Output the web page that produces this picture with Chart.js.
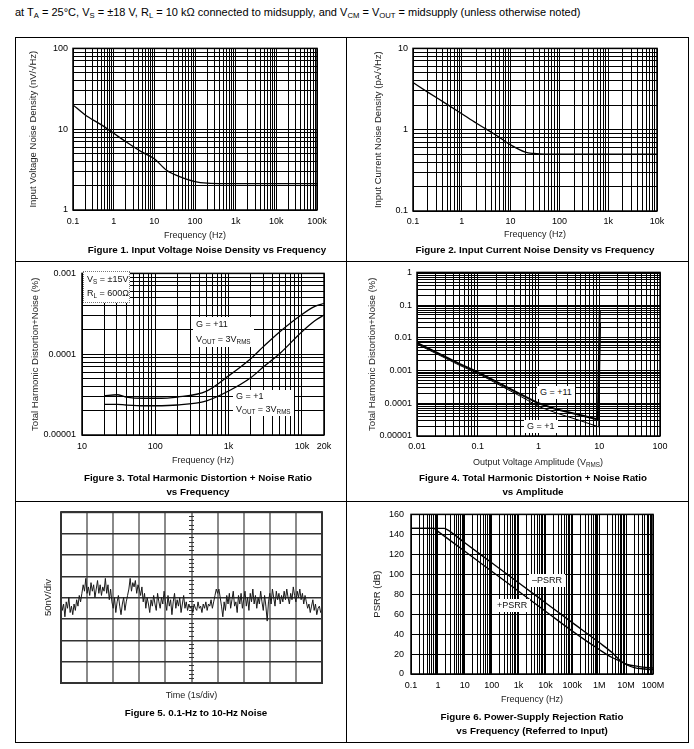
<!DOCTYPE html>
<html>
<head>
<meta charset="utf-8">
<script src="https://cdn.jsdelivr.net/npm/chart.js@4.4.1/dist/chart.umd.min.js"></script>
<style>
  body { margin:0; width:694px; height:749px; background:#fff; position:relative; overflow:hidden;
         font-family:"Liberation Sans", Arial, sans-serif; color:#000; }
  .ln { position:absolute; background:#000; }
  .cap { position:absolute; width:360px; text-align:center; font-weight:bold; font-size:9.8px; line-height:14px; white-space:nowrap; }
  .note { position:absolute; font-size:9px; line-height:13px; background:#fff; padding:0 3px; white-space:nowrap; color:#111; }
  .ttl { position:absolute; font-size:9px; line-height:12px; white-space:nowrap; color:#222; }
  sub { font-size:70%; vertical-align:-0.3em; line-height:0; }
  canvas { position:absolute; }
</style>
</head>
<body>
<div id="charts"></div>

<div style="position:absolute;left:15px;top:5px;font-size:11px;line-height:14px;white-space:nowrap">at T<sub>A</sub> = 25°C, V<sub>S</sub> = ±18 V, R<sub>L</sub> = 10 kΩ connected to midsupply, and V<sub>CM</sub> = V<sub>OUT</sub> = midsupply (unless otherwise noted)</div>

<div class="ln" style="left:15px;top:37px;width:674px;height:1px"></div>
<div class="ln" style="left:15px;top:261px;width:674px;height:1px"></div>
<div class="ln" style="left:15px;top:501px;width:674px;height:1px"></div>
<div class="ln" style="left:15px;top:742px;width:674px;height:1px"></div>
<div class="ln" style="left:15px;top:37px;width:1px;height:706px"></div>
<div class="ln" style="left:346px;top:37px;width:1px;height:706px"></div>
<div class="ln" style="left:688px;top:37px;width:1px;height:706px"></div>

<div class="cap" style="left:27px;top:243px">Figure 1. Input Voltage Noise Density vs Frequency</div>
<div class="cap" style="left:355px;top:243px">Figure 2. Input Current Noise Density vs Frequency</div>
<div class="cap" style="left:18px;top:471px">Figure 3. Total Harmonic Distortion + Noise Ratio<br>vs Frequency</div>
<div class="cap" style="left:353px;top:471px">Figure 4. Total Harmonic Distortion + Noise Ratio<br>vs Amplitude</div>
<div class="cap" style="left:16px;top:706px">Figure 5. 0.1-Hz to 10-Hz Noise</div>
<div class="cap" style="left:352px;top:710px">Figure 6. Power-Supply Rejection Ratio<br>vs Frequency (Referred to Input)</div>

<div class="note" style="left:83px;top:271px;width:42px;height:30px;padding:0 0 0 3px;border:1px dotted #777;line-height:14px">V<sub>S</sub> = ±15V<br>R<sub>L</sub> = 600Ω</div>
<div class="note" style="left:193px;top:317px;line-height:15px">G = +11<br>V<sub>OUT</sub> = 3V<sub>RMS</sub></div>
<div class="note" style="left:233px;top:390px;line-height:13px">G = +1<br>V<sub>OUT</sub> = 3V<sub>RMS</sub></div>
<div class="note" style="left:537px;top:386px">G = +11</div>
<div class="note" style="left:524px;top:420px">G = +1</div>
<div class="note" style="left:529px;top:574px">–PSRR</div>
<div class="note" style="left:494px;top:599px">+PSRR</div>
<div class="ttl" style="left:438px;top:456px;width:200px;text-align:center">Output Voltage Amplitude (V<sub>RMS</sub>)</div>

<script>
// Figure 1: input voltage noise density (nV/rtHz)
const fig1Freq  = [0.1, 0.2, 0.5, 1, 2, 5, 10, 20, 50, 100, 200, 500, 1000, 10000, 100000];
const fig1Noise = [20, 15, 11.3, 8.9, 7.0, 5.2, 4.3, 3.1, 2.5, 2.25, 2.15, 2.12, 2.12, 2.12, 2.12];
const fig1XTicks = [0.1, 1, 10, 100, 1000, 10000, 100000];
const fig1XLabels = ['0.1', '1', '10', '100', '1k', '10k', '100k'];
const fig1YTicks = [1, 10, 100];
const fig1YLabels = ['1', '10', '100'];

// Figure 2: input current noise density (pA/rtHz)
const fig2Freq  = [0.1, 0.2, 0.5, 1, 2, 5, 10, 20, 30, 50, 100, 1000, 10000];
const fig2Noise = [3.8, 2.9, 2.05, 1.57, 1.2, 0.86, 0.65, 0.53, 0.51, 0.5, 0.5, 0.5, 0.5];
const fig2XTicks = [0.1, 1, 10, 100, 1000, 10000];
const fig2XLabels = ['0.1', '1', '10', '100', '1k', '10k'];
const fig2YTicks = [0.1, 1, 10];
const fig2YLabels = ['0.1', '1', '10'];

// Figure 3: THD+N vs frequency (%)
const fig3Freq = [20, 30, 40, 70, 100, 200, 500, 1000, 2000, 3000, 5000, 10000, 15000, 20000];
const fig3G11  = [3.05e-5, 3.15e-5, 2.95e-5, 2.85e-5, 2.85e-5, 2.95e-5, 3.5e-5, 5.4e-5, 8.8e-5, 1.25e-4, 1.9e-4, 3.1e-4, 3.9e-4, 4.25e-4];
const fig3G1   = [2.4e-5, 2.4e-5, 2.35e-5, 2.3e-5, 2.3e-5, 2.35e-5, 2.65e-5, 3.5e-5, 5.1e-5, 7.0e-5, 1.02e-4, 1.9e-4, 2.6e-4, 3.05e-4];
const fig3XTicks = [10, 100, 1000, 10000, 20000];
const fig3XLabels = ['10', '100', '1k', '10k', '20k'];
const fig3YTicks = [0.00001, 0.0001, 0.001];
const fig3YLabels = ['0.00001', '0.0001', '0.001'];

// Figure 4: THD+N vs output amplitude (%)
const fig4G11Amp = [0.01, 0.02, 0.05, 0.1, 0.2, 0.5, 1, 2, 5, 9.5, 10.2];
const fig4G11    = [7e-3, 3.7e-3, 1.6e-3, 9e-4, 4.6e-4, 1.9e-4, 1.0e-4, 6.5e-5, 4.3e-5, 3.2e-5, 0.07];
const fig4G1Amp  = [0.01, 0.02, 0.05, 0.1, 0.2, 0.5, 1, 2, 5, 9.8, 10.5];
const fig4G1     = [6.4e-3, 3.4e-3, 1.45e-3, 8.2e-4, 4.1e-4, 1.65e-4, 8e-5, 5.0e-5, 2.9e-5, 1.9e-5, 0.03];
const fig4XTicks = [0.01, 0.1, 1, 10, 100];
const fig4XLabels = ['0.01', '0.1', '1', '10', '100'];
const fig4YTicks = [0.00001, 0.0001, 0.001, 0.01, 0.1, 1];
const fig4YLabels = ['0.00001', '0.0001', '0.001', '0.01', '0.1', '1'];

// Figure 5: 0.1-Hz to 10-Hz noise, divisions (50nV/div), one sample every 0.05 s
const fig5Step = 0.05;
const fig5Noise = [
  -0.1, -0.6, -0.3, -0.9, -0.2, -0.5, 0.0, -0.7, -0.4, -0.8,
  -0.3, -0.6, -0.1, -0.4, 0.1, -0.2, 0.2, 0.6, 0.3, 0.9,
  0.2, 0.5, 0.1, 0.7, 0.3, 0.6, 0.0, 0.4, 0.8, 0.2,
  0.6, 0.1, 0.5, 0.3, 0.9, 0.2, 0.6, -0.1, 0.4, -0.2,
  -0.5, 0.0, -0.7, -0.2, 0.1, -0.4, -0.8, -0.3, 0.0, -0.6,
  -0.2, 0.1, 0.4, 0.9, 0.3, 0.7, 0.5, 0.8, 0.2, 0.6,
  0.4, 0.1, 0.5, -0.2, 0.2, -0.5, 0.0, -0.3, -0.7, -0.1,
  -0.4, 0.1, -0.3, -0.6, 0.2, -0.2, -0.5, 0.0, -0.3, 0.3,
  -0.2, -0.6, 0.1, -0.4, -0.1, -0.8, -0.2, 0.2, -0.5, -0.1,
  -0.4, 0.0, -0.7, -0.3, 0.1, -0.5, -0.2, -0.6, -0.3, -0.5,
  -0.4, -0.7, -0.3, -0.5, -0.6, -0.2, -0.5, -0.4, -0.7, -0.3,
  -0.5, -0.2, -0.6, -0.3, -0.4, -0.1, -0.5, -0.2, 0.1, 0.4,
  0.2, 0.4, 0.0, -0.4, -0.9, -0.2, -0.6, 0.1, -0.3, 0.2,
  -0.5, -0.1, 0.3, -0.4, -0.2, -0.7, 0.1, -0.3, 0.2, -0.5,
  -0.1, 0.3, -0.4, 0.0, -0.6, 0.2, -0.2, 0.4, -0.3, 0.1,
  -0.5, 0.0, -0.3, 0.3, -0.2, -0.6, 0.1, -0.4, -1.1, -0.2,
  0.2, -0.3, 0.4, 0.0, -0.4, 0.3, -0.1, 0.2, -0.3, 0.1,
  -0.2, 0.3, -0.1, 0.4, 0.0, -0.3, 0.2, -0.1, 0.5, 0.1,
  -0.2, 0.3, 0.0, 0.4, -0.1, 0.2, -0.3, 0.1, -0.2, -0.5,
  -0.3, -0.7, -0.4, -0.1, -0.6, -0.3, -0.8, -0.5, -0.4, -0.7,
  -0.6
];

// Figure 6: PSRR (dB)
const fig6MinusFreq = [0.1, 1.7, 2.3, 10, 100, 1000, 10000, 100000, 1e6, 3e6, 6e6, 1e7, 2e7, 5e7, 1e8];
const fig6Minus     = [146, 146, 144.5, 131.5, 111.5, 91.5, 71.5, 51.5, 31.5, 21.5, 13.5, 9.5, 6.5, 5, 4.3];
const fig6PlusFreq  = [0.1, 0.7, 1, 10, 100, 1000, 10000, 100000, 1e6, 3e6, 6e6, 1e7, 3e7, 1e8];
const fig6Plus      = [146, 146, 143, 123, 103, 83, 63, 43, 24.5, 16.5, 12.8, 10, 7.5, 6];
const fig6XTicks = [0.1, 1, 10, 100, 1000, 1e4, 1e5, 1e6, 1e7, 1e8];
const fig6XLabels = ['0.1', '1', '10', '100', '1k', '10k', '100k', '1M', '10M', '100M'];
const fig6YTicks = [0, 20, 40, 60, 80, 100, 120, 140, 160];
const fig6YLabels = ['0', '20', '40', '60', '80', '100', '120', '140', '160'];

// page layout: canvas [left, top, width, height], plot [left, top, right, bottom]
const L1 = { canvas: [16, 38, 329, 206], plot: [73, 45, 317, 210], yGap: 5, xLabelY: 222, yTitleX: 33, xTitleY: 236 };
const L2 = { canvas: [347, 38, 340, 206], plot: [413, 45, 657, 211], yGap: 5, xLabelY: 222, yTitleX: 378, xTitleY: 235 };
const L3 = { canvas: [16, 262, 329, 210], plot: [82, 270, 324, 435], yGap: 6, xLabelY: 447, yTitleX: 35, xTitleY: 461 };
const L4 = { canvas: [347, 262, 340, 210], plot: [417, 271, 660, 436], yGap: 5, xLabelY: 447, yTitleX: 372, xTitleY: null };
const L5 = { canvas: [16, 502, 329, 205], plot: [61, 507, 322, 683], yGap: 0, xLabelY: 690, yTitleX: 48, xTitleY: 696 };
const L6 = { canvas: [347, 502, 340, 205], plot: [411, 510, 653, 674], yGap: 7, xLabelY: 686, yTitleX: 377, xTitleY: 700 };

const FONT = { family: '"Liberation Sans", Arial, sans-serif', size: 9, lineHeight: 1.2 };
const YFONT = { family: '"Liberation Sans", Arial, sans-serif', size: 9.5, lineHeight: 1.2 };
const LH = 9 * 1.2;
const YLH = 9.5 * 1.2;

function logGrid(min, max) {
  const ticks = [];
  for (let e = Math.floor(Math.log10(min)) - 1; e <= Math.ceil(Math.log10(max)); e++) {
    for (let m = 1; m < 10; m++) {
      const v = +(m * Math.pow(10, e)).toPrecision(6);
      if (v >= min * 0.9999 && v <= max * 1.0001) ticks.push({ value: v });
    }
  }
  return ticks;
}

function labelFor(values, labels) {
  return v => {
    const i = values.findIndex(t => Math.abs(v - t) <= Math.abs(t) * 1e-6);
    return i < 0 ? '' : labels[i];
  };
}

function pts(xs, ys) {
  return xs.map((x, i) => ({ x: x, y: ys[i] }));
}

const framePlugin = {
  id: 'frame',
  afterDraw(chart, args, opts) {
    const { ctx, chartArea: a } = chart;
    ctx.save();
    ctx.strokeStyle = opts.color || '#000';
    ctx.lineWidth = opts.width || 1.5;
    ctx.strokeRect(a.left, a.top, a.right - a.left, a.bottom - a.top);
    ctx.restore();
  }
};

function axisX(L, o) {
  const ch = L.canvas[1] + L.canvas[3];
  const pb = L.plot[3];
  const ax = {
    type: o.type, min: o.min, max: o.max, position: 'bottom',
    afterFit: s => { s.height = ch - pb; },
    grid: { color: o.gridColor || '#000', lineWidth: o.gridWidth || 1, drawTicks: false },
    border: { display: false },
    ticks: { autoSkip: false, maxRotation: 0, minRotation: 0, font: FONT, color: '#000',
             padding: L.xLabelY - pb - LH / 2, callback: o.label },
    title: L.xTitleY ? { display: true, text: o.title, font: FONT, color: '#222',
             padding: { top: 0, bottom: Math.max(0, ch - L.xTitleY - LH / 2) } } : { display: false }
  };
  if (o.type === 'logarithmic') ax.afterBuildTicks = s => { s.ticks = logGrid(o.min, o.max); };
  if (o.step) ax.ticks.stepSize = o.step;
  return ax;
}

function axisY(L, o) {
  const cl = L.canvas[0];
  const pl = L.plot[0];
  const ax = {
    type: o.type, min: o.min, max: o.max, position: 'left',
    afterFit: s => { s.width = pl - cl; },
    grid: { color: o.gridColor || '#000', lineWidth: o.gridWidth || 1, drawTicks: false },
    border: { display: false },
    ticks: { autoSkip: false, font: FONT, color: '#000', padding: L.yGap, callback: o.label },
    title: { display: true, text: o.title, font: YFONT, color: '#222',
             padding: { top: L.yTitleX - cl - YLH / 2, bottom: 0 } }
  };
  if (o.type === 'logarithmic') ax.afterBuildTicks = s => { s.ticks = logGrid(o.min, o.max); };
  if (o.step) ax.ticks.stepSize = o.step;
  return ax;
}

function makeChart(L, datasets, scales, frame) {
  const [cl, ct, cw, ch] = L.canvas;
  const [pl, pt, pr, pb] = L.plot;
  const c = document.createElement('canvas');
  c.width = cw; c.height = ch;
  c.style.left = cl + 'px'; c.style.top = ct + 'px';
  c.style.width = cw + 'px'; c.style.height = ch + 'px';
  document.getElementById('charts').appendChild(c);
  return new Chart(c, {
    type: 'line',
    data: { datasets: datasets },
    options: {
      responsive: false,
      animation: false,
      events: [],
      layout: { padding: { left: 0, top: pt - ct, right: cl + cw - pr, bottom: 0 } },
      plugins: { legend: { display: false }, tooltip: { enabled: false }, frame: frame || {} },
      scales: scales
    },
    plugins: [framePlugin]
  });
}

function curve(xs, ys, width, smooth) {
  return {
    data: pts(xs, ys), borderColor: '#000', borderWidth: width, pointRadius: 0, fill: false,
    cubicInterpolationMode: smooth ? 'monotone' : 'default', tension: 0
  };
}

// Figure 1
makeChart(L1, [curve(fig1Freq, fig1Noise, 1.3, true)], {
  x: axisX(L1, { type: 'logarithmic', min: 0.1, max: 100000, title: 'Frequency (Hz)', label: labelFor(fig1XTicks, fig1XLabels) }),
  y: axisY(L1, { type: 'logarithmic', min: 1, max: 100, title: 'Input Voltage Noise Density (nV/√Hz)', label: labelFor(fig1YTicks, fig1YLabels) })
});

// Figure 2
makeChart(L2, [curve(fig2Freq, fig2Noise, 1.3, true)], {
  x: axisX(L2, { type: 'logarithmic', min: 0.1, max: 10000, title: 'Frequency (Hz)', label: labelFor(fig2XTicks, fig2XLabels) }),
  y: axisY(L2, { type: 'logarithmic', min: 0.1, max: 10, title: 'Input Current Noise Density (pA/√Hz)', label: labelFor(fig2YTicks, fig2YLabels) })
});

// Figure 3
makeChart(L3, [curve(fig3Freq, fig3G11, 1.3, true), curve(fig3Freq, fig3G1, 1.3, true)], {
  x: axisX(L3, { type: 'logarithmic', min: 10, max: 20000, title: 'Frequency (Hz)', label: labelFor(fig3XTicks, fig3XLabels) }),
  y: axisY(L3, { type: 'logarithmic', min: 0.00001, max: 0.001, title: 'Total Harmonic Distortion+Noise (%)', label: labelFor(fig3YTicks, fig3YLabels) })
});

// Figure 4
makeChart(L4, [curve(fig4G11Amp, fig4G11, 2, false), curve(fig4G1Amp, fig4G1, 1, false)], {
  x: axisX(L4, { type: 'logarithmic', min: 0.01, max: 100, title: '', label: labelFor(fig4XTicks, fig4XLabels) }),
  y: axisY(L4, { type: 'logarithmic', min: 0.00001, max: 1, title: 'Total Harmonic Distortion+Noise (%)', label: labelFor(fig4YTicks, fig4YLabels) })
});

// Figure 5
const fig5Scales = {
  x: axisX(L5, { type: 'linear', min: 0, max: 10, step: 1, title: 'Time (1s/div)', label: () => '', gridColor: '#8a8a8a', gridWidth: 2 }),
  y: axisY(L5, { type: 'linear', min: -4, max: 4, step: 1, title: '50nV/div', label: () => '', gridColor: '#333', gridWidth: 1.5 }),
  yc: {
    axis: 'y', type: 'linear', min: -4, max: 4, position: { x: 5.1 },
    afterFit: s => { s.width = 0; },
    grid: { drawOnChartArea: false, drawTicks: true, tickLength: 5, color: '#333', lineWidth: 1 },
    border: { display: false },
    ticks: { stepSize: 0.2, autoSkip: false, callback: () => '' }
  }
};
makeChart(L5, [{
  data: fig5Noise.map((v, i) => ({ x: i * fig5Step, y: v })),
  borderColor: '#1a1a1a', borderWidth: 1, pointRadius: 0, fill: false, tension: 0
}], fig5Scales, { color: '#333', width: 2 });

// Figure 6
makeChart(L6, [curve(fig6MinusFreq, fig6Minus, 1.3, true), curve(fig6PlusFreq, fig6Plus, 1.3, true)], {
  x: axisX(L6, { type: 'logarithmic', min: 0.1, max: 1e8, title: 'Frequency (Hz)', label: labelFor(fig6XTicks, fig6XLabels) }),
  y: axisY(L6, { type: 'linear', min: 0, max: 160, step: 20, title: 'PSRR (dB)', label: labelFor(fig6YTicks, fig6YLabels) })
});
</script>
</body>
</html>
